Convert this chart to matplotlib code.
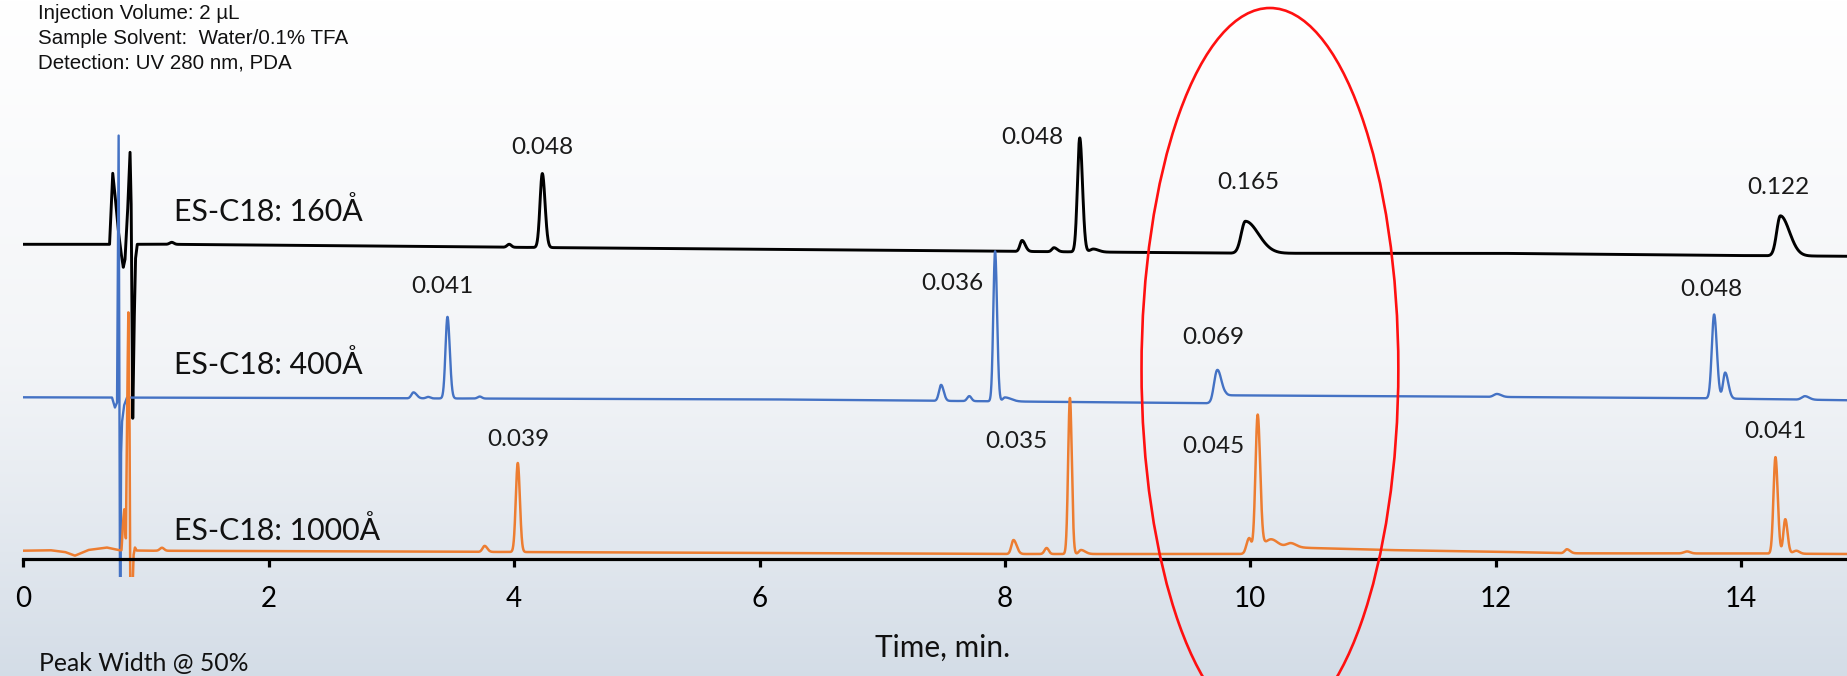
import numpy as np
import matplotlib
matplotlib.use("Agg")
import matplotlib.pyplot as plt
from matplotlib.patches import Ellipse

# ---------------- data ----------------
# time axis in minutes; signal in arbitrary detector units (offset per trace)
trace_names = ["ES-C18: 160Å", "ES-C18: 400Å", "ES-C18: 1000Å"]
trace_colors = ["#000000", "#4472c4", "#ed7d31"]

# baselines: (time, level)
black_base_t = [0, 1.2, 4.0, 8.0, 10.0, 12.0, 13.7, 14.9]
black_base_y = [315, 315, 312, 308, 306, 306, 304, 303]
blue_base_t = [0, 3.0, 6.0, 7.9, 9.68, 9.80, 11.2, 13.7, 14.9]
blue_base_y = [162, 161, 160, 158, 156, 164, 163, 161, 159]
orange_base_t = [0, 0.22, 0.34, 0.42, 0.53, 0.68, 0.78, 1.0, 4.0, 8.0, 9.95,
                 10.12, 10.5, 11.1, 12.0, 12.6, 14.0, 14.9]
orange_base_y = [8.6, 9.1, 7.3, 3.6, 9.3, 11.8, 9.1, 8.6, 7.3, 5.3, 5.3,
                 13.3, 11.3, 9.3, 7.6, 6.0, 5.8, 5.3]

# solvent-front disturbance: (time, deviation from baseline)
black_front_t = [0.703, 0.719, 0.729, 0.743, 0.774, 0.796, 0.815, 0.829,
                 0.849, 0.870, 0.879, 0.892, 0.902, 0.914, 0.929]
black_front_y = [0, 45, 71, 55, 14, -8, -23, -15, 30, 92, 40, -174, -90, -15, 0]
blue_front_t = [0.723, 0.747, 0.764, 0.772, 0.777, 0.782, 0.790, 0.796, 0.804,
                0.821, 0.845]
blue_front_y = [0, -10, -5, 150, 262, 40, -260, -60, -25, -8, 0]
orange_front_t = [0.800, 0.814, 0.823, 0.831, 0.836, 0.847, 0.856, 0.866,
                  0.872, 0.880, 0.890, 0.898, 0.910, 0.923]
orange_front_y = [0, 30, 41, 20, 12, 150, 238, 120, -40, -60, -40, -5, 3, 0]

# peak tables: retention time, height, left / right half-width at half height
black_rt = [1.21, 3.96, 4.23, 8.14, 8.40, 8.61, 8.72, 9.96, 14.32]
black_h = [2, 3, 74, 11, 4, 114, 3, 32, 40]
black_wl = [0.02, 0.02, 0.022, 0.02, 0.02, 0.022, 0.03, 0.040, 0.035]
black_wr = [0.02, 0.02, 0.026, 0.03, 0.03, 0.026, 0.05, 0.125, 0.087]

blue_rt = [3.18, 3.30, 3.457, 3.72, 7.48, 7.71, 7.92, 8.00, 9.73, 12.01,
           13.78, 13.87, 14.52]
blue_h = [6, 1.5, 81.6, 2, 16, 5, 150, 4, 30, 3, 84, 26, 3.5]
blue_wl = [0.02, 0.02, 0.019, 0.02, 0.02, 0.02, 0.017, 0.02, 0.03, 0.03,
           0.022, 0.02, 0.03]
blue_wr = [0.03, 0.02, 0.022, 0.02, 0.025, 0.02, 0.019, 0.06, 0.039, 0.04,
           0.026, 0.03, 0.04]

orange_rt = [1.13, 3.76, 4.03, 8.07, 8.34, 8.53, 8.62, 9.99, 10.06, 10.17,
             10.33, 12.58, 13.56, 14.28, 14.36, 14.45]
orange_h = [3, 6, 89, 14, 6, 156, 4, 14, 134, 7, 4, 4, 2, 96.5, 34.5, 3]
orange_wl = [0.02, 0.02, 0.019, 0.02, 0.02, 0.017, 0.02, 0.025, 0.021, 0.05,
             0.04, 0.02, 0.03, 0.019, 0.018, 0.03]
orange_wr = [0.02, 0.025, 0.020, 0.03, 0.02, 0.018, 0.04, 0.02, 0.024, 0.06,
             0.05, 0.03, 0.03, 0.022, 0.022, 0.03]

# peak-width annotations (min) per trace
black_labels = ["0.048", "0.048", "0.165", "0.122"]
blue_labels = ["0.041", "0.036", "0.069", "0.048"]
orange_labels = ["0.039", "0.035", "0.045", "0.041"]

x_ticks = [0, 2, 4, 6, 8, 10, 12, 14]

info_lines = ["Injection Volume: 2 µL",
              "Sample Solvent:  Water/0.1% TFA",
              "Detection: UV 280 nm, PDA"]

# ---------------- build traces ----------------
grid = np.arange(0, 14.9, 0.001)


def trace(base_t, base_y, front_t, front_y, rt, h, wl, wr):
    t = np.union1d(grid, front_t)
    y = np.interp(t, base_t, base_y)
    y = y + np.interp(t, front_t, front_y, left=0, right=0)
    for r, a, l, rr in zip(rt, h, wl, wr):
        hw = np.where(t < r, l, rr)
        sig = hw / np.sqrt(2 * np.log(2))
        y = y + a * np.exp(-0.5 * ((t - r) / sig) ** 2)
    return t, y


traces = [
    trace(black_base_t, black_base_y, black_front_t, black_front_y,
          black_rt, black_h, black_wl, black_wr),
    trace(blue_base_t, blue_base_y, blue_front_t, blue_front_y,
          blue_rt, blue_h, blue_wl, blue_wr),
    trace(orange_base_t, orange_base_y, orange_front_t, orange_front_y,
          orange_rt, orange_h, orange_wl, orange_wr),
]

# ---------------- figure ----------------
W, H = 1847, 676
fig = plt.figure(figsize=(W / 100, H / 100), dpi=100)

# background gradient
bg = fig.add_axes([0, 0, 1, 1], zorder=-5)
bg.axis("off")
rows = np.linspace(0, 1, 400)[:, None]
top = np.array([1.0, 1.0, 1.0])
mid = np.array([0.955, 0.962, 0.972])
bot = np.array([0.83, 0.865, 0.905])
col = np.where(rows < 0.5,
               top + (mid - top) * (rows / 0.5),
               mid + (bot - mid) * ((rows - 0.5) / 0.5) ** 1.2)
img = np.repeat(col[:, None, :], 2, axis=1).reshape(400, 2, 3)
bg.imshow(img, aspect="auto", extent=[0, 1, 0, 1], interpolation="bilinear")
bg.set_xlim(0, 1)
bg.set_ylim(0, 1)

x0px, px_per_min = 23.3, 122.7
axis_row, clip_row = 559.3, 577
ax = fig.add_axes([x0px / W, (H - clip_row) / H, (W - x0px) / W, clip_row / H])
ax.patch.set_alpha(0)
ax.set_xlim(0, (W - x0px) / px_per_min)
ax.set_ylim(axis_row - clip_row, axis_row)

lws = [2.1, 1.7, 1.8]
for (t, y), c, lw in zip(traces, trace_colors, lws):
    ax.plot(t, y, color=c, lw=lw, solid_joinstyle="round", zorder=3)

for s in ["left", "right", "top"]:
    ax.spines[s].set_visible(False)
ax.spines["bottom"].set_position(("data", 0))
ax.spines["bottom"].set_linewidth(2.3)
ax.spines["bottom"].set_zorder(4)
ax.set_yticks([])
ax.set_xticks(x_ticks)
ax.set_xticklabels([str(v) for v in x_ticks])
ax.tick_params(axis="x", direction="out", length=6, width=2.3, pad=13,
               labelsize=20)
for lab in ax.get_xticklabels():
    lab.set_fontfamily("Lato")

# peak width labels
lab_font = dict(fontfamily="Lato", fontsize=17.5, ha="center", va="center",
                color="#1a1a1a")
black_lab_pos = [(4.227, 412.3), (8.221, 422.3), (9.981, 376.3), (14.30, 371.3)]
blue_lab_pos = [(3.418, 272.6), (7.569, 275.3), (9.696, 221.3), (13.76, 270.0)]
orange_lab_pos = [(4.034, 120.0), (8.09, 117.6), (9.696, 112.6), (14.28, 127.6)]
for labels, pos in [(black_labels, black_lab_pos), (blue_labels, blue_lab_pos),
                    (orange_labels, orange_lab_pos)]:
    for s, (tx, ty) in zip(labels, pos):
        ax.text(tx, ty, s, **lab_font)

# trace names
name_pos = [(1.228, 347.3), (1.228, 194.3), (1.228, 29.3)]
for s, (tx, ty) in zip(trace_names, name_pos):
    ax.text(tx, ty, s, fontfamily="Lato", fontsize=21.8, ha="left",
            va="center", color="#111111")

# highlight ellipse
ax.add_patch(Ellipse((10.16, 190.3), 2.093, 722, fill=False, ec="#ff1010",
                     lw=1.9, clip_on=False, zorder=5))

# header text
for i, s in enumerate(info_lines):
    fig.text(38 / W, 1 - (13.3 + 24.8 * i) / H, s, fontfamily="Liberation Sans",
             fontsize=14.8, ha="left", va="center", color="#111111")

fig.text(943 / W, 1 - 648 / H, "Time, min.", fontfamily="Lato", fontsize=21.5,
         ha="center", va="center", color="#111111")
fig.text(39 / W, 1 - 663 / H, "Peak Width @ 50%", fontfamily="Lato",
         fontsize=17.8, ha="left", va="center", color="#111111")

fig.savefig("out.png", dpi=100)
